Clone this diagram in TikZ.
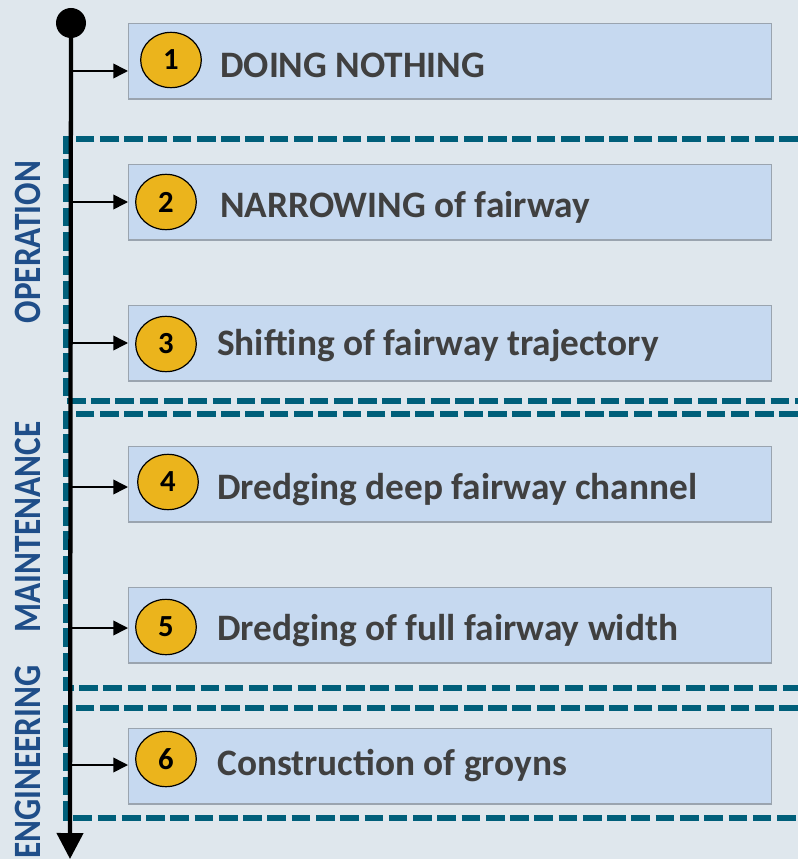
\documentclass[tikz,border=0pt]{standalone}
\usepackage{fontspec}
\setmainfont{Carlito}
\usepackage{tikz}
\usetikzlibrary{arrows.meta,positioning,shapes.geometric}
\definecolor{RMBack}{HTML}{DFE7ED}
\definecolor{RMBox}{HTML}{C6D9F0}
\definecolor{RMBoxLine}{HTML}{9AA4AF}
\definecolor{RMGold}{HTML}{EBB41C}
\definecolor{RMTeal}{HTML}{005F7A}
\definecolor{RMNavy}{HTML}{1F4E89}
\definecolor{RMInk}{HTML}{404040}

\begin{document}
\begin{tikzpicture}[x=0.75pt,y=-0.75pt,line join=miter,
  measure/.style={draw=RMBoxLine,line width=1.1pt,fill=RMBox,anchor=north west,
    minimum width=482pt,minimum height=56.5pt,inner sep=0pt},
  badge/.style={ellipse,draw=black,line width=0.9pt,fill=RMGold,
    minimum width=45.5pt,minimum height=41.5pt,inner sep=0pt,
    font=\fontsize{23}{24}\selectfont\bfseries},
  caption/.style={anchor=west,text=RMInk,inner sep=0pt,
    font=\fontsize{28}{30}\selectfont\bfseries},
  phase/.style={rotate=90,xscale=0.86,text=RMNavy,inner sep=0pt,
    font=\fontsize{29}{30}\selectfont\bfseries},
  groupline/.style={draw=RMTeal,line width=4.3pt,dash pattern=on 14pt off 4.2pt},
  branch/.style={line width=1.2pt,-{Triangle[length=11pt,width=11pt]}}]
  \path[use as bounding box,fill=RMBack] (0,0) rectangle (798,859);

  % Dashed frames of the three phases, open to the right.
  \draw[groupline] (798,139) -| (66,401) -- (798,401);
  \draw[groupline] (798,414) -| (66,688) -- (798,688);
  \draw[groupline] (798,708) -| (66,818) -- (798,818);

  \node[phase] (operation) at (28,242) {OPERATION};
  \node[phase] (maintenance) at (28,527) {MAINTENANCE};
  \node[phase] (engineering) at (28,762) {ENGINEERING};

  % Measures: box top, badge centre, text start.
  \node[measure] (box1) at (128,23) {};
  \node[measure] (box2) at (128,164) {};
  \node[measure] (box3) at (128,305) {};
  \node[measure] (box4) at (128,446) {};
  \node[measure] (box5) at (128,587) {};
  \node[measure] (box6) at (128,728) {};

  \node[badge] (num1) at (171,60) {1};
  \node[badge] (num2) at (166,202) {2};
  \node[badge] (num3) at (166,344) {3};
  \node[badge] (num4) at (168,482) {4};
  \node[badge] (num5) at (166,627) {5};
  \node[badge] (num6) at (166,759) {6};

  \node[caption] (txt1) at (220,65) {DOING NOTHING};
  \node[caption] (txt2) at (220,207) {NARROWING of fairway};
  \node[caption] (txt3) at (217,346) {Shifting of fairway trajectory};
  \node[caption] (txt4) at (217,490) {Dredging deep fairway channel};
  \node[caption] (txt5) at (217,631) {Dredging of full fairway width};
  \node[caption] (txt6) at (217,766) {Construction of groyns};

  % Time axis with one branch per measure.
  \node[circle,fill=black,minimum size=22.5pt,inner sep=0pt] (start) at (71,23) {};
  \coordinate (finish) at (70,859);
  \draw[line width=3.2pt,-{Triangle[length=19.5pt,width=19.5pt]}]
    (start.center) -- (finish);

  \coordinate (t1) at (70,71);
  \coordinate (t2) at (70,202);
  \coordinate (t3) at (70,343);
  \coordinate (t4) at (70,487);
  \coordinate (t5) at (70,628);
  \coordinate (t6) at (70,765);
  \foreach \i in {1,...,6}
    \draw[branch] (t\i) -- (t\i -| box\i.west);
\end{tikzpicture}
\end{document}
